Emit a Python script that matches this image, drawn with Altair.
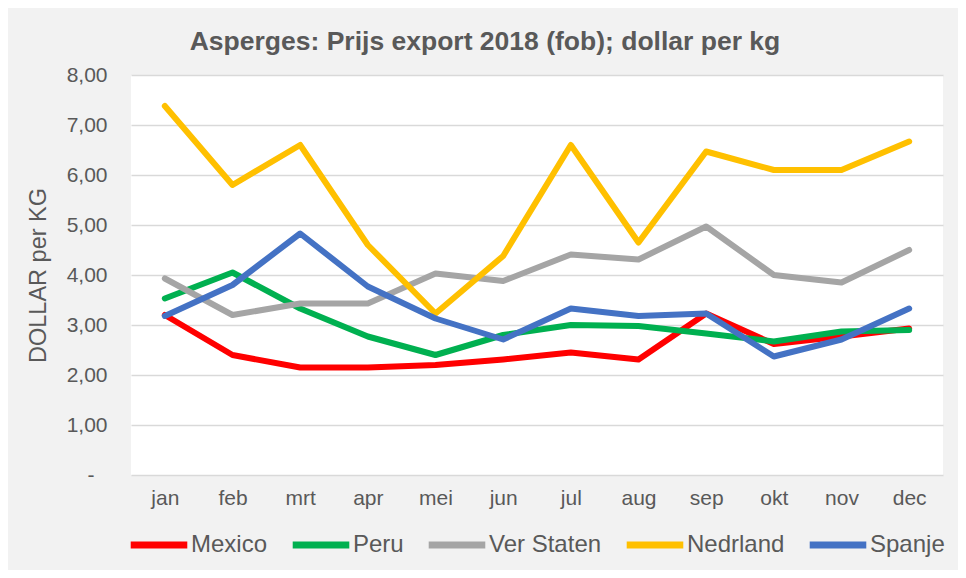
import altair as alt
import pandas as pd

months = ["jan", "feb", "mrt", "apr", "mei", "jun", "jul", "aug", "sep", "okt", "nov", "dec"]
series = ["Mexico", "Peru", "Ver Staten", "Nedrland", "Spanje"]
colors = ["#FF0000", "#00B050", "#A5A5A5", "#FFC000", "#4472C4"]

mexico = [3.20, 2.40, 2.15, 2.15, 2.20, 2.31, 2.45, 2.31, 3.23, 2.62, 2.77, 2.93]
peru = [3.53, 4.05, 3.33, 2.77, 2.40, 2.80, 3.00, 2.98, 2.83, 2.67, 2.87, 2.90]
ver_staten = [3.93, 3.20, 3.43, 3.43, 4.03, 3.88, 4.41, 4.31, 4.97, 4.00, 3.85, 4.50]
nedrland = [7.38, 5.80, 6.60, 4.60, 3.23, 4.38, 6.60, 4.65, 6.47, 6.10, 6.10, 6.67]
spanje = [3.18, 3.80, 4.83, 3.77, 3.13, 2.71, 3.33, 3.18, 3.23, 2.37, 2.71, 3.33]

y_ticks = [0, 1, 2, 3, 4, 5, 6, 7, 8]

values = [mexico, peru, ver_staten, nedrland, spanje]
rows = []
for s, vals in zip(series, values):
    for m, v in zip(months, vals):
        rows.append({"land": s, "maand": m, "prijs": v})
df = pd.DataFrame(rows)

TXT = "#595959"
FONT = "Liberation Sans"

lines = alt.Chart(df).mark_line(strokeWidth=6, strokeCap="round", strokeJoin="round").encode(
    x=alt.X("maand:N", sort=months,
            scale=alt.Scale(type="point", padding=0.5),
            axis=alt.Axis(title=None, labelAngle=0, labelFontSize=21, labelColor=TXT,
                          labelFont=FONT, ticks=False, domain=False, grid=False,
                          labelPadding=12)),
    y=alt.Y("prijs:Q",
            scale=alt.Scale(domain=[0, 8], nice=False),
            axis=alt.Axis(title="DOLLAR per KG", values=y_ticks,
                          labelExpr="datum.value == 0 ? '-' : replace(format(datum.value, '.2f'), '.', ',')",
                          labelFontSize=21, labelColor=TXT, labelFont=FONT,
                          ticks=False, domain=False,
                          labelPadding={"condition": {"test": "datum.value == 0", "value": 37}, "value": 24},
                          titleFontSize=23.5, titleFontWeight="normal", titleColor=TXT,
                          titleFont=FONT, titlePadding=16,
                          gridColor="#D9D9D9", gridWidth=1.6)),
    color=alt.Color("land:N", sort=series,
                    scale=alt.Scale(domain=series, range=colors),
                    legend=alt.Legend(title=None, orient="none", direction="horizontal",
                                      legendX=-4, legendY=438,
                                      symbolType="stroke", symbolSize=3200,
                                      symbolStrokeWidth=7, labelFontSize=24,
                                      labelColor=TXT, labelFont=FONT, labelOffset=0,
                                      columnPadding=10, columns=5)),
)

chart = lines.properties(
    width=812,
    height=400,
    autosize=alt.AutoSizeParams(type="none"),
    padding={"left": 123, "top": 67, "right": 15, "bottom": 95},
    background="#F2F2F2",
    title=alt.TitleParams("Asperges: Prijs export 2018 (fob); dollar per kg",
                          fontSize=26.5, fontWeight="bold", color=TXT, font=FONT,
                          anchor="middle", dx=-52, offset=9),
).configure_view(fill="white", stroke=None)

chart.save("out.html", embed_options={"renderer": "svg", "actions": False})
